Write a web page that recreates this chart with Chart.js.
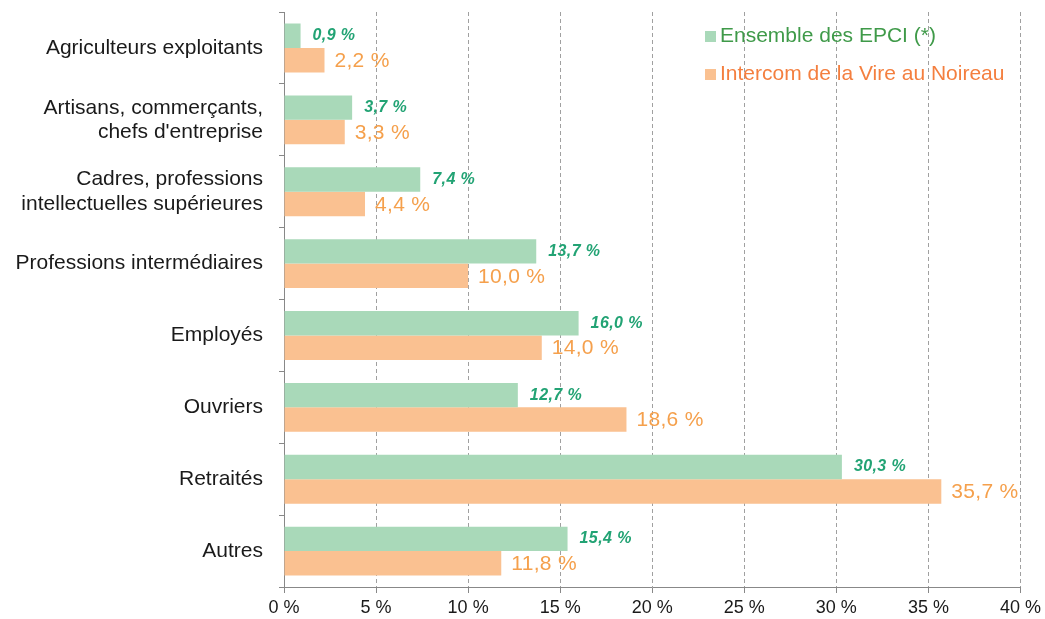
<!DOCTYPE html>
<html lang="fr">
<head>
  <meta charset="UTF-8">
  <title>Catégories socioprofessionnelles</title>
  <script src="https://cdn.jsdelivr.net/npm/chart.js@4.4.0"></script>
  <style>
    html, body { margin: 0; padding: 0; background: #fff; }
    #wrap { width: 1045px; height: 619px; }
  </style>
</head>
<body>
  <div id="wrap"><canvas id="chart"></canvas></div>
  <script>
    // catégories (libellés sur plusieurs lignes)
    const categories = [
      'Agriculteurs exploitants',
      ['Artisans, commerçants,', "chefs d'entreprise"],
      ['Cadres, professions', 'intellectuelles supérieures'],
      'Professions intermédiaires',
      'Employés',
      'Ouvriers',
      'Retraités',
      'Autres'
    ];
    const seriesNames = ['Ensemble des EPCI (*)', 'Intercom de la Vire au Noireau'];
    const ensembleEpci = [0.9, 3.7, 7.4, 13.7, 16.0, 12.7, 30.3, 15.4];
    const intercomVire = [2.2, 3.3, 4.4, 10.0, 14.0, 18.6, 35.7, 11.8];
    const xTicks = [0, 5, 10, 15, 20, 25, 30, 35, 40];

    const barColors = ['#a9d9b9', '#fac191'];
    const valueColors = ['#22a374', '#f5a04c'];
    const legendColors = ['#3f9a49', '#f47f3f'];
    const FONT = '"Liberation Sans", Arial, sans-serif';

    const fmt = v => v.toFixed(1).replace('.', ',') + ' %';

    // étiquettes de valeur au bout des barres
    const valueLabels = {
      id: 'valueLabels',
      afterDatasetsDraw(chart) {
        const c = chart.ctx;
        chart.data.datasets.forEach((ds, i) => {
          const meta = chart.getDatasetMeta(i);
          meta.data.forEach((bar, j) => {
            c.save();
            c.textBaseline = 'middle';
            c.textAlign = 'left';
            c.fillStyle = valueColors[i];
            if (i === 0) {
              c.font = 'italic bold 16px ' + FONT;
              c.letterSpacing = '0.4px';
              c.fillText(fmt(ds.data[j]), bar.x + 12, bar.y);
            } else {
              c.font = '21px ' + FONT;
              c.letterSpacing = '0.3px';
              c.fillText(fmt(ds.data[j]), bar.x + 10, bar.y + 1);
            }
            c.restore();
          });
        });
      }
    };

    // légende verticale en haut à droite, dans la zone du graphique
    const cornerLegend = {
      id: 'cornerLegend',
      afterDraw(chart) {
        const c = chart.ctx;
        c.save();
        c.font = '21px ' + FONT;
        c.textBaseline = 'middle';
        seriesNames.forEach((name, i) => {
          const y = 36 + i * 38;
          c.fillStyle = barColors[i];
          c.fillRect(705, y - 5, 11, 11);
          c.fillStyle = legendColors[i];
          c.fillText(name, 720, y);
        });
        c.restore();
      }
    };

    new Chart(document.getElementById('chart'), {
      type: 'bar',
      data: {
        labels: categories,
        datasets: [
          { label: seriesNames[0], data: ensembleEpci, backgroundColor: barColors[0],
            categoryPercentage: 0.68, barPercentage: 1 },
          { label: seriesNames[1], data: intercomVire, backgroundColor: barColors[1],
            categoryPercentage: 0.68, barPercentage: 1 }
        ]
      },
      plugins: [valueLabels, cornerLegend],
      options: {
        indexAxis: 'y',
        responsive: true,
        maintainAspectRatio: false,
        animation: false,
        layout: { padding: { top: 12, right: 24, left: 0, bottom: 0 } },
        plugins: {
          legend: { display: false },
          tooltip: { enabled: false }
        },
        scales: {
          x: {
            min: 0,
            max: 40,
            afterBuildTicks(scale) { scale.ticks = xTicks.map(v => ({ value: v })); },
            afterFit(scale) { scale.height = 32; },
            ticks: {
              callback: v => v + ' %',
              color: '#1a1a1a',
              padding: 4,
              maxRotation: 0,
              font: { family: FONT, size: 18 }
            },
            grid: {
              color: '#a0a0a0',
              tickColor: '#888',
              tickLength: 6,
              tickBorderDash: [],
              drawTicks: true
            },
            border: { color: '#888', dash: [4, 3] }
          },
          y: {
            afterFit(scale) {
              scale.width = 284;
              scale.paddingTop = 0;
              scale.paddingBottom = 0;
            },
            ticks: {
              color: '#1a1a1a',
              padding: 16,
              crossAlign: 'near',
              font: { family: FONT, size: 21, lineHeight: 1.15 }
            },
            grid: {
              drawOnChartArea: false,
              offset: true,
              tickLength: 5,
              tickColor: '#888'
            },
            border: { color: '#888' }
          }
        }
      }
    });
  </script>
</body>
</html>
